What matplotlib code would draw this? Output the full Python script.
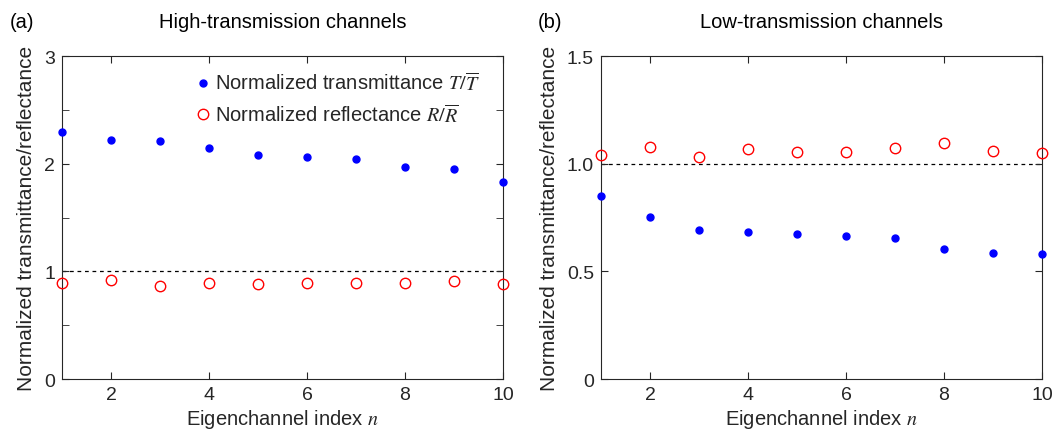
import matplotlib.pyplot as plt
import numpy as np

plt.rcParams['font.family'] = ['Liberation Sans', 'DejaVu Sans']
plt.rcParams['mathtext.fontset'] = 'stix'

# eigenchannel index
n = np.arange(1, 11)

# (a) high-transmission channels
T_high = [2.29, 2.22, 2.215, 2.15, 2.085, 2.06, 2.04, 1.97, 1.95, 1.83]
R_high = [0.893, 0.917, 0.868, 0.893, 0.884, 0.896, 0.890, 0.890, 0.908, 0.881]

# (b) low-transmission channels
T_low = [0.852, 0.751, 0.694, 0.682, 0.674, 0.663, 0.654, 0.605, 0.585, 0.580]
R_low = [1.040, 1.078, 1.031, 1.069, 1.055, 1.055, 1.071, 1.095, 1.059, 1.051]

txt = '#262626'
fs = 14.5

fig = plt.figure(figsize=(10.6, 4.35), dpi=100)
ax1 = fig.add_axes([0.0585, 0.1264, 0.416, 0.7425])
ax2 = fig.add_axes([0.567, 0.1264, 0.416, 0.7425])


def style(ax):
    ax.tick_params(direction='in', top=True, right=True, length=5,
                   labelsize=14, colors=txt, which='both', pad=5)
    ax.tick_params(which='minor', length=5)
    for s in ax.spines.values():
        s.set_color(txt)
        s.set_linewidth(0.8)
    ax.set_xlim(1, 10)
    ax.set_xticks([2, 4, 6, 8, 10])
    ax.set_xlabel('Eigenchannel index $n$', fontsize=fs, color=txt, labelpad=3)
    ax.set_ylabel('Normalized transmittance/reflectance', fontsize=15,
                  color=txt, labelpad=6)


for ax, T, R in [(ax1, T_high, R_high), (ax2, T_low, R_low)]:
    ax.axhline(1, color='k', ls=(0, (3, 3)), lw=0.9, zorder=1)
    ax.plot(n, T, 'o', color='blue', ms=5, mec='blue', ls='none',
            clip_on=False, zorder=3,
            label=r'Normalized transmittance $T/\overline{T}$')
    ax.plot(n, R, 'o', mfc='none', mec='red', ms=7.5, mew=1.0, ls='none',
            clip_on=False, zorder=3,
            label=r'Normalized reflectance $R/\overline{R}$')
    style(ax)

ax1.set_ylim(0, 3)
ax1.set_yticks([0, 1, 2, 3])
ax1.set_yticks(np.arange(0.5, 3, 1), minor=True)

ax2.set_ylim(0, 1.5)
ax2.set_yticks([0, 0.5, 1.0, 1.5])
ax2.set_yticklabels(['0', '0.5', '1.0', '1.5'])

ax1.set_title('High-transmission channels', fontsize=fs, color='k', pad=21)
ax2.set_title('Low-transmission channels', fontsize=fs, color='k', pad=21)
fig.text(0.009, 0.948, '(a)', fontsize=fs, color='k', va='center')
fig.text(0.507, 0.948, '(b)', fontsize=fs, color='k', va='center')

leg = ax1.legend(loc='upper right', bbox_to_anchor=(0.977, 0.99), frameon=False,
                 fontsize=fs, handlelength=0.6, handletextpad=0.3,
                 labelspacing=0.45, borderaxespad=0.2)
for t in leg.get_texts():
    t.set_color(txt)

fig.savefig('out.png', dpi=100)
